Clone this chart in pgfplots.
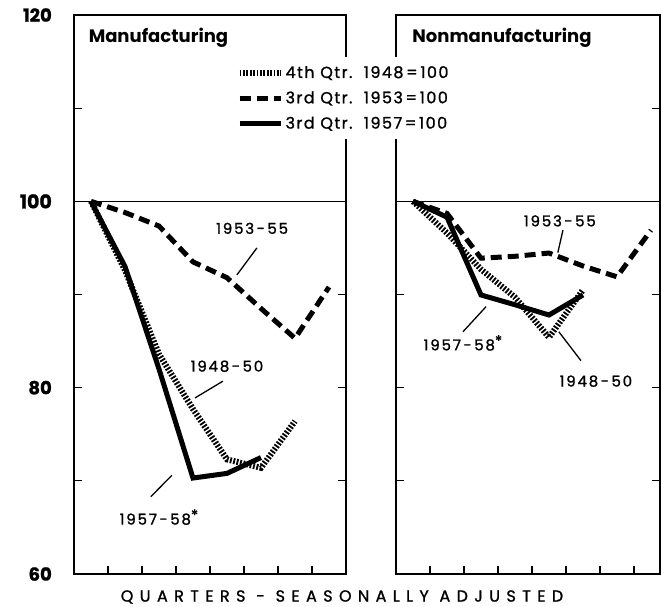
\documentclass[border=0pt]{standalone}
\usepackage{fontspec}
\setmainfont{Poppins}
\newfontfamily\medfont{Poppins}[FakeBold=1.2]
\usepackage{pgfplots}
\pgfplotsset{compat=1.18}
\tikzset{
  sDot/.style={line width=6pt, dash pattern=on 1.8pt off 1.6pt},
  sDash/.style={line width=5pt, dash pattern=on 11pt off 6pt},
  sSolid/.style={line width=5pt},
  lead/.style={line width=1.3pt},
  ann/.style={font=\medfont\fontsize{15}{17}\selectfont\addfontfeatures{LetterSpace=12}},
}
\pgfplotsset{
  panel/.style={
    scale only axis, height=559pt,
    xmin=0, ymin=60, ymax=120,
    axis line style={line width=1.6pt},
    xtick={1,...,7}, xticklabels={}, xtick pos=lower,
    ytick={70,80,90,110}, yticklabels={}, ytick pos=both,
    tick align=inside, major tick length=8pt,
    tick style={line width=1.3pt, black},
    extra y ticks={100}, extra y tick labels={},
    extra y tick style={grid=major, major grid style={line width=1.3pt, black}, major tick length=0pt},
    clip=false,
    legend image code/.code={\draw[#1] (0pt,0pt) -- (41pt,0pt);},
  }
}
\begin{document}
\begin{tikzpicture}[x=1pt,y=1pt]
\useasboundingbox (0,0) rectangle (661,606);
% right panel first
\begin{axis}[panel, at={(396pt,32pt)}, anchor=south west, width=264pt, xmax=7.765]
\addplot[sDot] coordinates {(0.5,100) (1.5,96.6) (2.5,92.7) (3.5,89.7) (4.5,85.4) (5.5,90.5)};
\addplot[sDash] coordinates {(0.5,100) (1.5,98.7) (2.5,93.9) (3.5,94.1) (4.5,94.45) (5.5,93.06) (6.5,91.9) (7.5,96.9)};
\addplot[sSolid] coordinates {(0.5,100) (1.5,98.3) (2.5,89.95) (3.5,88.9) (4.5,87.8) (5.5,89.95)};
\node[anchor=west, font=\bfseries\fontsize{18}{20}\selectfont] at (axis cs:0.38,117.6) {Nonmanufacturing};
\node[ann] at (axis cs:4.82,97.9) {1953\,-\,55};
\draw[lead] (axis cs:4.91,96.9) -- (axis cs:4.76,94.5);
\node[ann] at (axis cs:1.97,84.8) {1957\,-\,58\raisebox{0.5ex}{*}};
\draw[lead] (axis cs:2.65,88.7) -- (axis cs:1.97,86.0);
\node[ann] at (axis cs:5.88,80.7) {1948\,-\,50};
\draw[lead] (axis cs:4.79,86.0) -- (axis cs:5.44,82.9);
\end{axis}
% left panel
\begin{axis}[panel, at={(74pt,32pt)}, anchor=south west, width=272pt, xmax=8,
  ytick={70,80,90,110,60,120}, yticklabels={,\textbf{80},,,\textbf{60},\textbf{120}},
  yticklabel pos=left,
  yticklabel style={anchor=east, inner sep=0pt, xshift=-22pt, font=\medfont\fontsize{18}{20}\selectfont},
  extra y tick labels={\bfseries\fontsize{19}{20}\selectfont 100},
  legend style={at={(axis description cs:0.575,0.925)}, anchor=north west, fill=white, draw=none,
     font=\medfont\fontsize{16}{18}\selectfont\addfontfeatures{LetterSpace=9}, row sep=8pt, inner xsep=6pt, inner ysep=7pt},
  legend cell align=left]
\addplot[sDot] coordinates {(0.5,100) (1.5,92.6) (2.5,83.6) (3.5,77.7) (4.5,72.3) (5.5,71.4) (6.5,76.4)};
\addlegendentry{4th Qtr.\ \ 1948\,=\,100}
\addplot[sDash] coordinates {(0.5,100) (1.5,98.8) (2.5,97.35) (3.5,93.5) (4.5,91.8) (5.5,88.5) (6.5,85.3) (7.5,90.8)};
\addlegendentry{3rd Qtr.\ \ 1953\,=\,100}
\addplot[sSolid] coordinates {(0.5,100) (1.5,93) (2.5,82) (3.5,70.3) (4.5,70.8) (5.5,72.5)};
\addlegendentry{3rd Qtr.\ \ 1957\,=\,100}
\node[anchor=west, font=\bfseries\fontsize{18}{20}\selectfont] at (axis cs:0.33,117.6) {Manufacturing};
\node[ann] at (axis cs:5.24,97.1) {1953\,-\,55};
\draw[lead] (axis cs:5.38,95.0) -- (axis cs:4.79,92.1);
\node[ann] at (axis cs:4.5,82.3) {1948\,-\,50};
\draw[lead] (axis cs:4.38,80.7) -- (axis cs:3.56,78.9);
\node[ann] at (axis cs:2.5,66.1) {1957\,-\,58\raisebox{0.5ex}{*}};
\draw[lead] (axis cs:2.88,70.6) -- (axis cs:2.26,68.3);
\end{axis}
\node[font=\medfont\fontsize{16}{18}\selectfont\addfontfeatures{LetterSpace=40}] at (342pt,9pt) {QUARTERS - SEASONALLY ADJUSTED};
\end{tikzpicture}
\end{document}
